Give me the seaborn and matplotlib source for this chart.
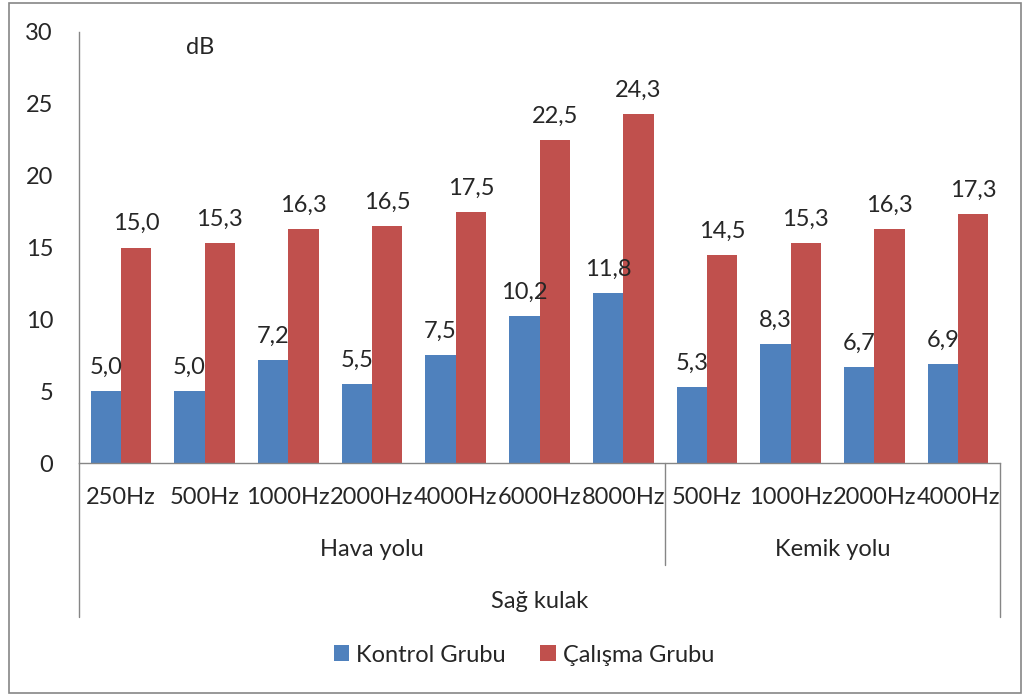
import matplotlib
matplotlib.use("Agg")
import matplotlib.pyplot as plt
import matplotlib.patches as mpatches
from matplotlib.lines import Line2D
import pandas as pd
import seaborn as sns

# Audiometric thresholds (dB), right ear
frequencies = ["250Hz", "500Hz", "1000Hz", "2000Hz", "4000Hz", "6000Hz", "8000Hz",
               "500Hz", "1000Hz", "2000Hz", "4000Hz"]
pathways = ["Hava yolu"] * 7 + ["Kemik yolu"] * 4
ear_label = "Sağ kulak"
control = [5.0, 5.0, 7.2, 5.5, 7.5, 10.2, 11.8, 5.3, 8.3, 6.7, 6.9]
study = [15.0, 15.3, 16.3, 16.5, 17.5, 22.5, 24.3, 14.5, 15.3, 16.3, 17.3]
groups = ["Kontrol Grubu", "Çalışma Grubu"]
y_ticks = [0, 5, 10, 15, 20, 25, 30]
unit_label = "dB"

colors = ["#4F81BD", "#C0504D"]
axis_gray = "#868686"
FONT = ["Lato", "DejaVu Sans"]
FS = 17

keys = [f"{p}|{f}" for p, f in zip(pathways, frequencies)]
df = pd.DataFrame({
    "key": keys * 2,
    "value": control + study,
    "grup": [groups[0]] * len(keys) + [groups[1]] * len(keys),
})

sns.set_style("white")
plt.rcParams["font.family"] = FONT

W, H = 1022, 695
fig = plt.figure(figsize=(W / 100, H / 100), dpi=100)

# plot area in pixel units
left_px, top_px, right_px, zero_px = 79, 32, 1000, 463
ax = fig.add_axes([left_px / W, 1 - zero_px / H,
                   (right_px - left_px) / W, (zero_px - top_px) / H])

sns.barplot(data=df, x="key", y="value", hue="grup", order=keys,
            hue_order=groups, palette=colors, width=0.724, linewidth=0,
            saturation=1, ax=ax, legend=True)

ax.set_xlim(-0.5, len(keys) - 0.5)
ax.set_ylim(0, 30)
ax.set_yticks(y_ticks)
ax.set_yticklabels([str(t) for t in y_ticks], fontsize=FS)
ax.set_xticks(range(len(keys)))
ax.set_xticklabels(frequencies, fontsize=FS, va="center")
ax.tick_params(axis="y", length=0, pad=18.7)
ax.tick_params(axis="x", length=0, pad=25.2)
ax.set_xlabel("")
ax.set_ylabel("")

for s in ["top", "right"]:
    ax.spines[s].set_visible(False)
for s in ["left", "bottom"]:
    ax.spines[s].set_color(axis_gray)
    ax.spines[s].set_linewidth(1.0)

# value labels with decimal comma
for cont, vals in zip(ax.containers, [control, study]):
    ax.bar_label(cont, labels=[f"{v:.1f}".replace(".", ",") for v in vals],
                 padding=9.5, fontsize=FS)

# multi-level category axis: group separators and group labels
ax_h = zero_px - top_px
trans = ax.get_xaxis_transform()
n_hava = pathways.count("Hava yolu")
for x, depth in [(-0.5, 154), (n_hava - 0.5, 102), (len(keys) - 0.5, 154)]:
    ax.add_line(Line2D([x, x], [0, -depth / ax_h], transform=trans,
                       color=axis_gray, lw=1.0, clip_on=False))

for name in ["Hava yolu", "Kemik yolu"]:
    idx = [i for i, p in enumerate(pathways) if p == name]
    xc = (idx[0] + idx[-1]) / 2
    ax.text(xc, -86 / ax_h, name, transform=trans, ha="center", va="center",
            fontsize=FS)
ax.text((len(keys) - 1) / 2, -138 / ax_h, ear_label, transform=trans,
        ha="center", va="center", fontsize=FS)

# unit label inside plot
fig.text(200 / W, 1 - 48 / H, unit_label, ha="center", va="center", fontsize=FS)

# legend below
handles, labels = ax.get_legend_handles_labels()
ax.get_legend().remove()
fig.legend(handles, labels, loc="center", bbox_to_anchor=(524 / W, 1 - 655 / H),
           ncol=2, frameon=False, fontsize=FS, handlelength=0.65,
           handleheight=0.65, handletextpad=0.3, columnspacing=1.45,
           borderaxespad=0)

# chart area frame
fig.patches.append(mpatches.Rectangle((9 / W, 2 / H), (W - 10) / W, (H - 5) / H,
                                      transform=fig.transFigure, fill=False,
                                      edgecolor=axis_gray, lw=1.2))

fig.savefig("out.png", dpi=100)
